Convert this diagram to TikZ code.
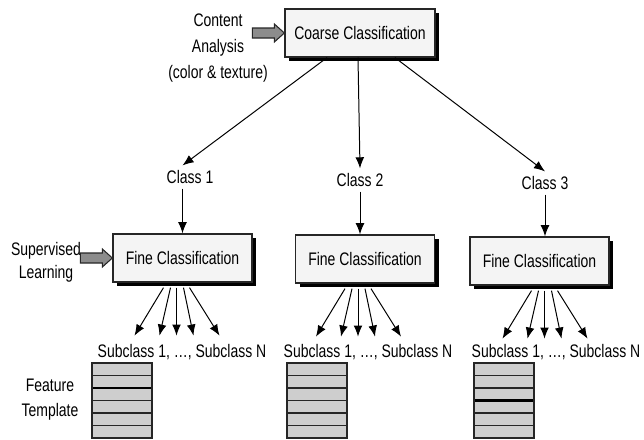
\documentclass[tikz,border=0pt]{standalone}
\usepackage{fontspec}
\setmainfont[FakeStretch=0.77]{Liberation Sans}
\usetikzlibrary{arrows.meta,calc,shadows}
\definecolor{boxfill}{RGB}{244,244,244}
\definecolor{arrowgray}{RGB}{140,140,140}
\definecolor{templategray}{RGB}{206,206,206}

\begin{document}
\begin{tikzpicture}[
    x=0.03cm, y=-0.03cm,
    every node/.style={font=\fontsize{15.5}{18}\selectfont},
    classbox/.style={
        draw=black!85,
        line width=1.1pt,
        fill=boxfill,
        minimum height=1.44cm,
        drop shadow={shadow xshift=0.13cm, shadow yshift=-0.13cm, fill=black, opacity=1}
    },
    lbl/.style={inner sep=4pt},
    arr/.style={-{Latex[length=9.5pt,width=7.5pt]}, line width=0.85pt},
    inarrow/.style={fill=arrowgray, draw=black!85, line width=0.9pt}
]
    \useasboundingbox (0,0) rectangle (644,439);

    \node[classbox, minimum width=4.5cm] (coarse) at (360,33) {Coarse Classification};
    \node[align=center, font=\fontsize{15.5}{22}\selectfont] (content) at (218,48) {Content\\Analysis\\(color \& texture)};
    \draw[inarrow] (coarse.west) -- ++(-10,-9) -- ++(0,4) -- ++(-22,0) -- ++(0,10) -- ++(22,0) -- ++(0,4) -- cycle;

    \node[lbl] (class1) at (190,177) {Class 1};
    \node[lbl] (class2) at (360,180) {Class 2};
    \node[lbl] (class3) at (545,183) {Class 3};

    \node[classbox, minimum width=4.17cm] (fine1) at (182.5,258) {Fine Classification};
    \node[classbox, minimum width=4.17cm] (fine2) at (365,259) {Fine Classification};
    \node[classbox, minimum width=4.17cm] (fine3) at (539.5,261) {Fine Classification};

    \node[align=center, font=\fontsize{15.5}{19.5}\selectfont] (supervised) at (46,262) {Supervised\\Learning};
    \draw[inarrow] (fine1.west) -- ++(-10,-9) -- ++(0,4) -- ++(-22,0) -- ++(0,10) -- ++(22,0) -- ++(0,4) -- cycle;

    \draw[arr] ([xshift=-0.99cm]coarse.south) -- (class1.north -| fine1.north);
    \draw[arr] ([xshift=-0.06cm]coarse.south) -- (class2.north);
    \draw[arr] ([xshift=1.05cm]coarse.south) -- (class3.north);

    \draw[arr] (class1.south -| fine1.north) -- (fine1.north);
    \draw[arr] (class2.south) -- (class2.south |- fine2.north);
    \draw[arr] (class3.south) -- (class3.south |- fine3.north);

    \foreach \b/\c in {fine1/-6, fine2/-7, fine3/5}
        \foreach \s/\t in {-13/-42, -6/-17, 0/0, 7/17, 13/43}
            \draw[arr] ($(\b.south)+({\c+\s},5)$) -- ($(\b.south)+({\c+\t},53)$);

    \node (sub1) at (182,352) {Subclass 1, \ldots, Subclass N};
    \node (sub2) at (368,352) {Subclass 1, \ldots, Subclass N};
    \node (sub3) at (556,352) {Subclass 1, \ldots, Subclass N};

    \node[align=center, font=\fontsize{15.5}{21.5}\selectfont] (feature) at (50,400) {Feature\\Template};

    % feature templates
    \foreach \x/\k in {92/2, 287/0, 474/3} {
        \fill[templategray] (\x,363) rectangle ++(60,75);
        \foreach \r in {1,...,5}
            \draw[line width=1pt, black!85] (\x,363+12.5*\r) -- ++(60,0);
        \ifnum\k>0
            \draw[line width=2.2pt] (\x,363+12.5*\k) -- ++(60,0);
        \fi
        \draw[line width=1pt, black!85] (\x,363) rectangle ++(60,75);
    }
\end{tikzpicture}
\end{document}
